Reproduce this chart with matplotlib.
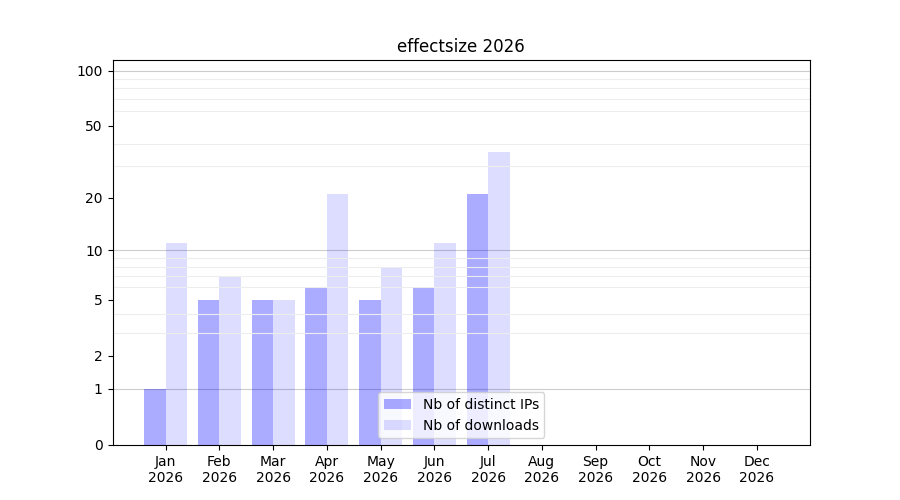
import numpy as np
import matplotlib
matplotlib.use('Agg')
import matplotlib.pyplot as plt

months = ['Jan', 'Feb', 'Mar', 'Apr', 'May', 'Jun', 'Jul', 'Aug', 'Sep', 'Oct', 'Nov', 'Dec']
year = '2026'
distinct_ips = [1, 5, 5, 6, 5, 6, 21, 0, 0, 0, 0, 0]
downloads = [11, 7, 5, 21, 8, 11, 36, 0, 0, 0, 0, 0]

x = np.arange(len(months))
width = 0.4

fig, ax = plt.subplots(figsize=(9, 5), dpi=100)

# y axis is log(1 + n), so zero months still sit on the axis
ax.set_yscale('function', functions=(lambda v: np.log10(np.maximum(v, 0) + 1),
                                     lambda v: 10 ** v - 1))

ax.bar(x - width / 2, distinct_ips, width, color='blue', alpha=0.33, label='Nb of distinct IPs')
ax.bar(x + width / 2, downloads, width, color='blue', alpha=0.135, label='Nb of downloads')

ax.set_ylim(0, 114)
ax.set_yticks([0, 1, 2, 5, 10, 20, 50, 100])
ax.set_yticklabels(['0', '1', '2', '5', '10', '20', '50', '100'])
minor = [2, 3, 4, 5, 6, 7, 8, 9, 20, 30, 40, 50, 60, 70, 80, 90]
ax.set_yticks(minor, minor=True)
ax.tick_params(axis='y', which='minor', length=0)
ax.grid(True, which='minor', axis='y', color='0.93', linewidth=0.8)
for y in [1, 10, 100]:
    ax.axhline(y, color='0.8', linewidth=0.8, zorder=0.5)

ax.set_xticks(x)
ax.set_xticklabels([m + '\n' + year for m in months])
ax.set_title('effectsize 2026')
ax.legend(loc='lower center')

plt.savefig('out.png')
plt.close()
